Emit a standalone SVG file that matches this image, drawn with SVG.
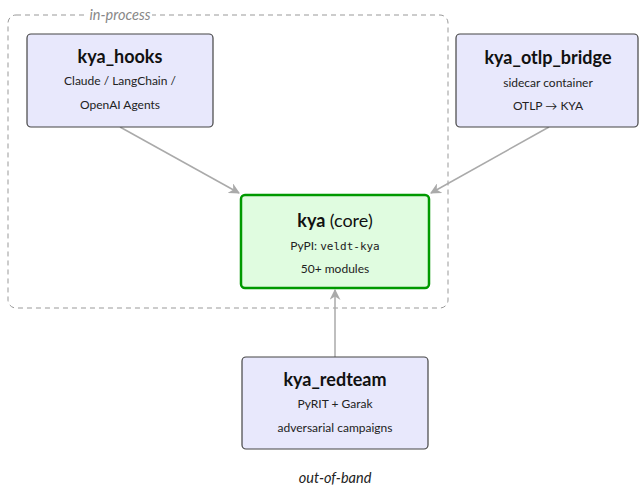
<svg xmlns="http://www.w3.org/2000/svg" width="639" height="489" viewBox="0 0 639 489">
<style>
.node{fill:#e8e8fc;stroke:#444;stroke-width:1.2}
.core{fill:#e0fce0;stroke:#009900;stroke-width:2.5}
.t{font-family:Lato,"Open Sans",sans-serif;font-weight:bold;font-size:18px;fill:#111;text-anchor:middle}
.s{font-family:Lato,"Open Sans",sans-serif;font-size:12px;fill:#222;text-anchor:middle}
.m{font-family:"DejaVu Sans Mono",monospace;font-size:11px}
.i{font-family:Lato,"Open Sans",sans-serif;font-style:italic;font-size:14.5px;text-anchor:middle}
.edge{stroke:#aaa;stroke-width:1.5;fill:none;marker-end:url(#ah)}
</style>
<defs>
<marker id="ah" viewBox="0 0 10 10" refX="9" refY="5" markerWidth="11" markerHeight="11" markerUnits="userSpaceOnUse" orient="auto">
<path d="M0,0 L10,5 L0,10 L3,5 Z" fill="#aaa"/>
</marker>
</defs>
<rect width="639" height="489" fill="#fff"/>
<g id="in-process">
<rect x="8" y="15" width="440" height="293" rx="8" fill="none" stroke="#999" stroke-width="1" stroke-dasharray="5,4"/>
<rect x="88" y="8" width="64" height="13" fill="#fff"/>
<text class="i" x="120" y="20" fill="#888">in-process</text>
</g>
<g id="connectors">
<line class="edge" x1="120" y1="127" x2="239" y2="193"/>
<line class="edge" x1="549" y1="127" x2="431" y2="193"/>
<line class="edge" x1="335" y1="357" x2="335" y2="290"/>
</g>
<g id="kya_hooks">
<rect class="node" x="27" y="34" width="186" height="93" rx="4"/>
<text class="t" x="120" y="63">kya_hooks</text>
<text class="s" x="120" y="85">Claude / LangChain /</text>
<text class="s" x="120" y="109">OpenAI Agents</text>
</g>
<g id="kya_otlp_bridge">
<rect class="node" x="456" y="34" width="182" height="93" rx="4"/>
<text class="t" x="548" y="64">kya_otlp_bridge</text>
<text class="s" x="548" y="87">sidecar container</text>
<text class="s" x="548" y="110">OTLP → KYA</text>
</g>
<g id="kya_core">
<rect class="core" x="241" y="195" width="188" height="93" rx="4"/>
<text class="t" x="335" y="227">kya <tspan font-weight="normal">(core)</tspan></text>
<text class="s" x="335" y="250">PyPI: <tspan class="m">veldt-kya</tspan></text>
<text class="s" x="335" y="273">50+ modules</text>
</g>
<g id="kya_redteam">
<rect class="node" x="242" y="357" width="186" height="92" rx="4"/>
<text class="t" x="335" y="386">kya_redteam</text>
<text class="s" x="335" y="408">PyRIT + Garak</text>
<text class="s" x="335" y="432">adversarial campaigns</text>
</g>
<g id="out-of-band">
<text class="i" x="335" y="483" fill="#222">out-of-band</text>
</g>
</svg>
